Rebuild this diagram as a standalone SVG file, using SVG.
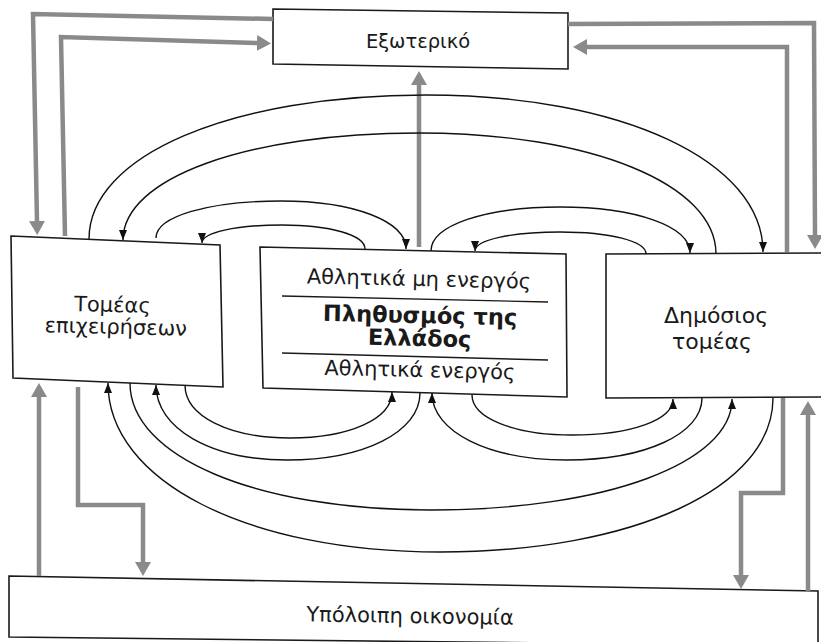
<svg xmlns="http://www.w3.org/2000/svg" width="821" height="642" viewBox="0 0 821 642">
<defs>
<style>
.box{fill:#fff;stroke:#1a1a1a;stroke-width:1.6}
.sep{fill:none;stroke:#1a1a1a;stroke-width:1.4}
.lbl{font-family:"DejaVu Sans","Liberation Sans",sans-serif;font-size:20px;fill:#1a1a1a;text-anchor:middle}
.bold{font-weight:bold;font-size:22.5px}
.flow{fill:none;stroke:#111;stroke-width:1.4;marker-end:url(#ah)}
.gray{fill:none;stroke:#8a8a8a;stroke-width:4.5;marker-end:url(#gh)}
</style>
<marker id="ah" markerUnits="userSpaceOnUse" markerWidth="10" markerHeight="8" viewBox="0 0 10 8" refX="10" refY="4" orient="auto">
<path d="M0,0 L10,4 L0,8 Z" fill="#111"/>
</marker>
<marker id="gh" markerUnits="userSpaceOnUse" markerWidth="14" markerHeight="16" viewBox="0 0 14 16" refX="1" refY="8" orient="auto">
<path d="M0,0 L14,8 L0,16 Z" fill="#8a8a8a"/>
</marker>
</defs>
<rect width="821" height="642" fill="#fff"/>

<g id="exoteriko">
<polygon class="box" points="273,9 568,13 568,69 273,64"/>
<text class="lbl" x="418" y="48" style="font-size:19.5px">Εξωτερικό</text>
</g>

<g id="epixeiriseis">
<polygon class="box" points="11,236 220,245 223,387 13,378"/>
<g transform="rotate(1.5 116 320)">
<text class="lbl" x="112" y="312" style="font-size:21px">Τομέας</text>
<text class="lbl" x="116" y="334" style="font-size:21px">επιχειρήσεων</text>
</g>
</g>

<g id="plithysmos">
<polygon class="box" points="260,247 566,254 567,397 263,388"/>
<line class="sep" x1="282" y1="296" x2="548" y2="302"/>
<line class="sep" x1="282" y1="353" x2="548" y2="360"/>
<g transform="rotate(1.3 418 320)">
<text class="lbl" x="418" y="286" style="font-size:21px">Αθλητικά μη ενεργός</text>
<text class="lbl bold" x="420" y="323">Πληθυσμός της</text>
<text class="lbl bold" x="420" y="346">Ελλάδος</text>
<text class="lbl" x="421" y="377" style="font-size:21px">Αθλητικά ενεργός</text>
</g>
</g>

<g id="dimosios">
<polygon class="box" points="606,254 823,253 823,397 606,398"/>
<text class="lbl" x="716" y="323" style="font-size:22px">Δημόσιος</text>
<text class="lbl" x="712" y="349" style="font-size:22px">τομέας</text>
</g>

<g id="ypoloipi">
<polygon class="box" points="9,576 818,591 818,646 9,637"/>
<text class="lbl" x="410" y="623" transform="rotate(1 410 615)" style="font-size:21px">Υπόλοιπη οικονομία</text>
</g>

<g id="connectors">
<path class="gray" d="M273,19 L33,14 L37,222"/>
<path class="gray" d="M65,236 L61,37 L258,43"/>
<path class="gray" d="M568,24 L814,23 L815,236"/>
<path class="gray" d="M787,252 L787,47 L586,47"/>
<path class="gray" d="M419,247 L419,84"/>
<path class="gray" d="M39,576 L39,396"/>
<path class="gray" d="M78,387 L78,505 L143,505 L143,563"/>
<path class="gray" d="M783,398 L783,493 L741,493 L741,576"/>
<path class="gray" d="M808,591 L808,414"/>

<path class="flow" d="M89,239 C89,155.5 230.5,95 426,95 C621.5,95 763,161 763,252"/>
<path class="flow" d="M716,254 C716,184 591,133 419,133 C247,133 123,178 123,240"/>
<path class="flow" d="M156,238 C156,216.5 208.5,201 281,201 C353.5,201 406,221 406,249"/>
<path class="flow" d="M365,249 C365,235 330,225 282,225 C235.6,225 202,232.6 202,243"/>
<path class="flow" d="M431,251 C431,225.5 485,207 560,207 C635,207 690,226 690,253"/>
<path class="flow" d="M646,254 C646,241 610,232 560,232 C511,232 475,240 475,251"/>
<path class="flow" d="M185,385 C185,416 229,438 290,438 C349,438 392,419 392,392"/>
<path class="flow" d="M420,393 C420,432 364,460 287,460 C211,460 156,428.5 156,385"/>
<path class="flow" d="M130,383 C130,457 256,510 431,510 C606,510 732,463 732,399"/>
<path class="flow" d="M773,398 C773,488 633,552 440,552 C247,552 108,481 108,383"/>
<path class="flow" d="M472,395 C472,418 514,435 572,435 C631,435 673,420 673,399"/>
<path class="flow" d="M702,398 C702,434 645,460 567,460 C489,460 432,432 432,393"/>
</g>
</svg>
